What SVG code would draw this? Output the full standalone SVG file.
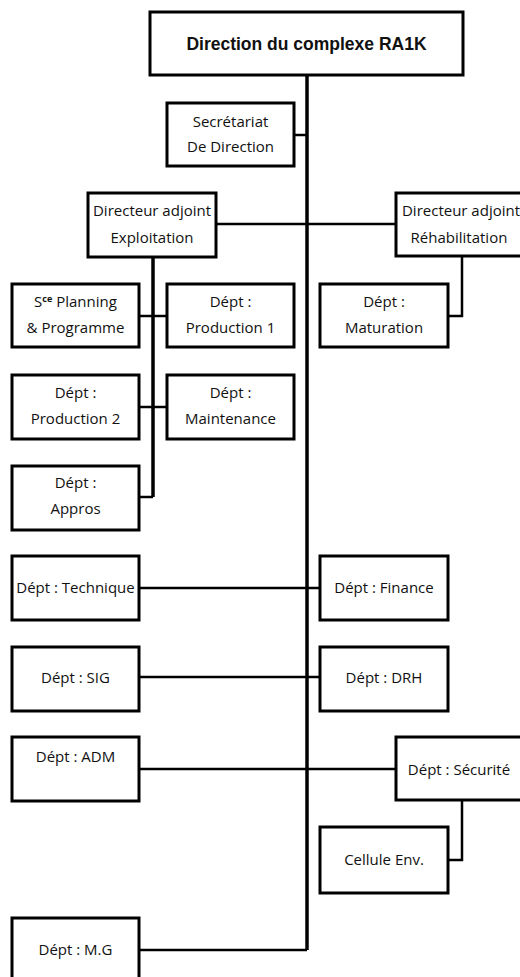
<svg xmlns="http://www.w3.org/2000/svg" width="520" height="977" viewBox="0 0 520 977">
  <style>
    .box { fill: #ffffff; stroke: #000000; stroke-width: 3; }
    .link { fill: none; stroke: #000000; stroke-width: 2.5; }
    .trunk { fill: none; stroke: #000000; stroke-width: 3.5; }
    .lbl { font-family: "Open Sans", "Liberation Sans", sans-serif; font-size: 15px; fill: #111111; text-anchor: middle; }
    .title { font-family: "Liberation Sans", Arial, sans-serif; font-size: 17.5px; font-weight: bold; fill: #111111; text-anchor: middle; }
  </style>
  <rect width="520" height="977" fill="#ffffff"/>

  <!-- connectors -->
  <g id="connectors">
    <path class="trunk" d="M307 75 V950"/>
    <path class="link" d="M294 135 H307"/>
    <path class="link" d="M216 224 H396"/>
    <path class="trunk" d="M153 258 V497"/>
    <path class="link" d="M139 316 H167"/>
    <path class="link" d="M139 407 H167"/>
    <path class="link" d="M139 497 H153"/>
    <path class="link" d="M462 256 V316 H448"/>
    <path class="link" d="M139 588 H320"/>
    <path class="link" d="M139 677 H320"/>
    <path class="link" d="M139 769 H396"/>
    <path class="link" d="M462 800 V860 H448"/>
    <path class="link" d="M139 950 H307"/>
  </g>

  <g id="direction">
    <rect class="box" x="150" y="12" width="313" height="63"/>
    <text class="title" x="306.5" y="50">Direction du complexe RA1K</text>
  </g>

  <g id="secretariat">
    <rect class="box" x="167" y="103" width="127" height="63"/>
    <text class="lbl" x="230.5" y="127">Secrétariat</text>
    <text class="lbl" x="230.5" y="152">De Direction</text>
  </g>

  <g id="da-exploitation">
    <rect class="box" x="88" y="193" width="128" height="64"/>
    <text class="lbl" x="152" y="216">Directeur adjoint</text>
    <text class="lbl" x="152" y="243">Exploitation</text>
  </g>

  <g id="da-rehabilitation">
    <rect class="box" x="396" y="193" width="128" height="63"/>
    <text class="lbl" x="461" y="216">Directeur adjoint</text>
    <text class="lbl" x="459" y="243">Réhabilitation</text>
  </g>

  <g id="planning">
    <rect class="box" x="12" y="284" width="127" height="63"/>
    <text class="lbl" x="75.5" y="307">S<tspan font-size="9" font-weight="bold" dy="-5">ce</tspan><tspan dy="5"> Planning</tspan></text>
    <text class="lbl" x="75.5" y="333">&amp; Programme</text>
  </g>

  <g id="production1">
    <rect class="box" x="167" y="284" width="127" height="63"/>
    <text class="lbl" x="230.5" y="307">Dépt :</text>
    <text class="lbl" x="230.5" y="333">Production 1</text>
  </g>

  <g id="maturation">
    <rect class="box" x="320" y="284" width="128" height="63"/>
    <text class="lbl" x="384" y="307">Dépt :</text>
    <text class="lbl" x="384" y="333">Maturation</text>
  </g>

  <g id="production2">
    <rect class="box" x="12" y="375" width="127" height="64"/>
    <text class="lbl" x="75.5" y="398">Dépt :</text>
    <text class="lbl" x="75.5" y="424">Production 2</text>
  </g>

  <g id="maintenance">
    <rect class="box" x="167" y="375" width="127" height="64"/>
    <text class="lbl" x="230.5" y="398">Dépt :</text>
    <text class="lbl" x="230.5" y="424">Maintenance</text>
  </g>

  <g id="appros">
    <rect class="box" x="12" y="466" width="127" height="64"/>
    <text class="lbl" x="75.5" y="488">Dépt :</text>
    <text class="lbl" x="75.5" y="514">Appros</text>
  </g>

  <g id="technique">
    <rect class="box" x="12" y="556" width="127" height="64"/>
    <text class="lbl" x="75.5" y="593">Dépt : Technique</text>
  </g>

  <g id="finance">
    <rect class="box" x="320" y="556" width="128" height="64"/>
    <text class="lbl" x="384" y="593">Dépt : Finance</text>
  </g>

  <g id="sig">
    <rect class="box" x="12" y="647" width="127" height="64"/>
    <text class="lbl" x="75.5" y="683">Dépt : SIG</text>
  </g>

  <g id="drh">
    <rect class="box" x="320" y="647" width="128" height="64"/>
    <text class="lbl" x="384" y="683">Dépt : DRH</text>
  </g>

  <g id="adm">
    <rect class="box" x="12" y="737" width="127" height="64"/>
    <text class="lbl" x="75.5" y="762">Dépt : ADM</text>
  </g>

  <g id="securite">
    <rect class="box" x="396" y="737" width="128" height="63"/>
    <text class="lbl" x="459" y="775">Dépt : Sécurité</text>
  </g>

  <g id="cellule-env">
    <rect class="box" x="320" y="827" width="128" height="66"/>
    <text class="lbl" x="384" y="865">Cellule Env.</text>
  </g>

  <g id="mg">
    <rect class="box" x="12" y="918" width="127" height="64"/>
    <text class="lbl" x="75.5" y="955">Dépt : M.G</text>
  </g>
</svg>
